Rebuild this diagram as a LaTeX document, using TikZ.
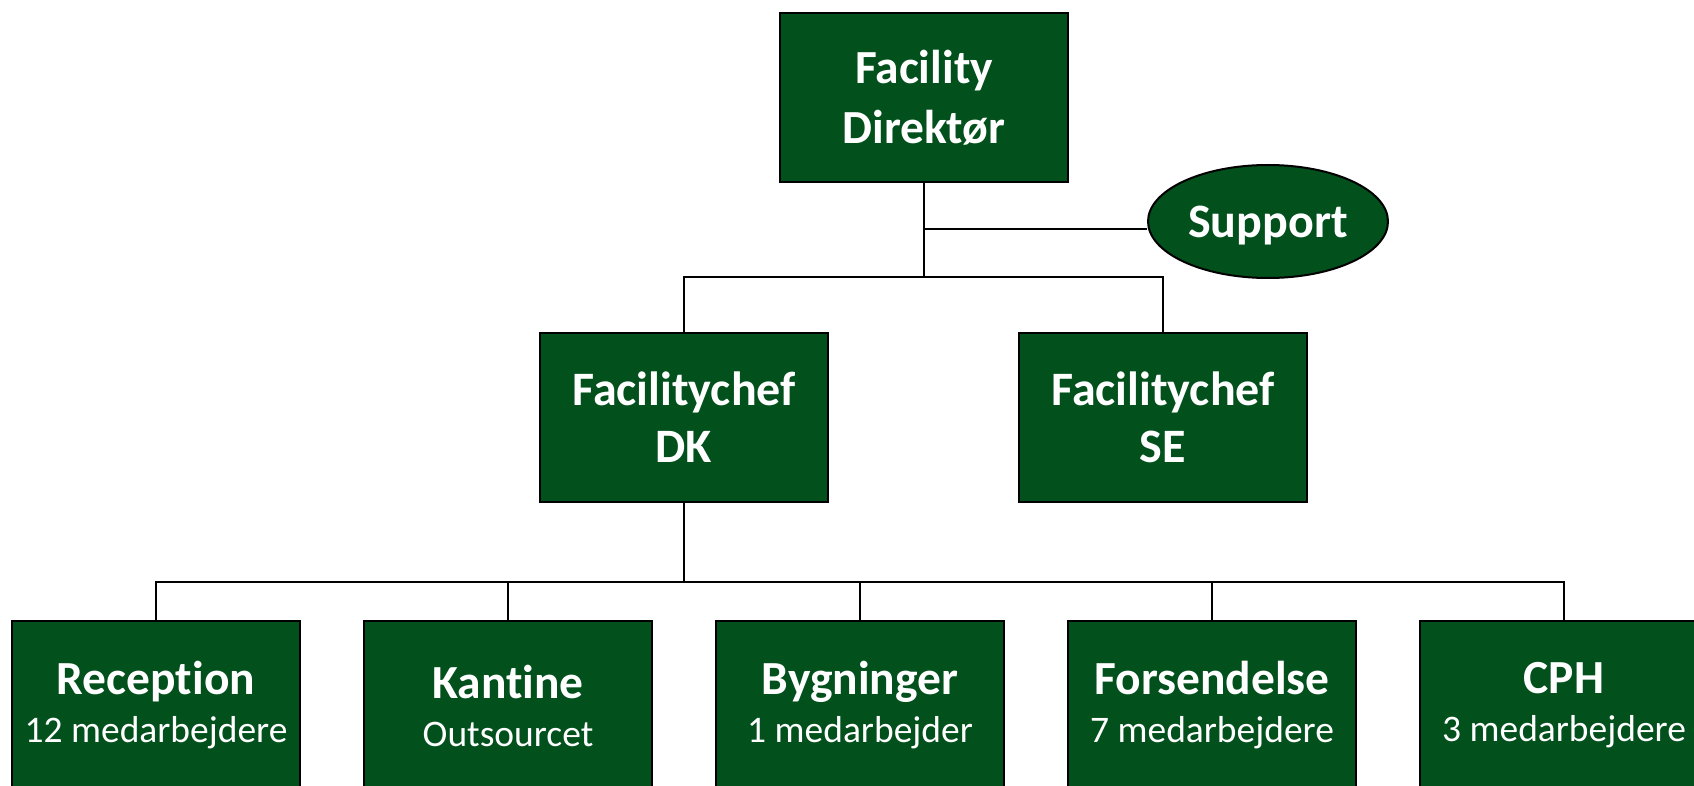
\documentclass[tikz,border=0pt]{standalone}
\usepackage{fontspec}
\setmainfont{Carlito}[Ligatures=NoCommon]
\usetikzlibrary{shapes.geometric}
\definecolor{boxgreen}{RGB}{2,80,28}
\begin{document}
\begin{tikzpicture}[x=1pt,y=-1pt,
  box/.style={draw=black, line width=2pt, fill=boxgreen, text=white,
    minimum width=288pt, minimum height=169pt, align=center, inner sep=0pt},
  topfont/.style={font=\fontsize{47.5}{60}\selectfont\bfseries},
  midfont/.style={font=\fontsize{48}{57}\selectfont\bfseries},
  conn/.style={line width=2pt, draw=black}]
\useasboundingbox (0,0) rectangle (1694,786);
% nodes
\node[box, topfont] (dir) at (924,97.5) {Facility\\Direktør};
\node[ellipse, draw=black, line width=2pt, fill=boxgreen, text=white,
  minimum width=240pt, minimum height=113pt, inner sep=0pt, text depth=0pt,
  font=\fontsize{48}{50}\selectfont\bfseries] (sup) at (1268,221.5) {Support};
\node[box, midfont] (dk) at (684,417.5) {Facilitychef\\DK};
\node[box, midfont] (se) at (1163,417.5) {Facilitychef\\SE};
\newcommand{\botnode}[4]{%
  \node[box, font=\fontsize{47.5}{49}\selectfont] (#1) at (#2,705.5)
    {{\bfseries #3}\\[-1pt]{\fontsize{37.5}{49}\selectfont #4}};}
\botnode{b1}{156}{Reception}{12 medarbejdere}
\botnode{b2}{508}{Kantine}{Outsourcet}
\botnode{b3}{860}{Bygninger}{1 medarbejder}
\botnode{b4}{1212}{Forsendelse}{7 medarbejdere}
\botnode{b5}{1564}{CPH}{3 medarbejdere}
% connectors
\coordinate (j1) at (924,277);
\coordinate (s1) at (924,229);
\coordinate (j2) at (684,582);
\draw[conn] (dir.south) -- (j1);
\draw[conn] (s1) -- (sup.west |- s1);
\draw[conn] (dk.north) |- (j1) -| (se.north);
\draw[conn] (dk.south) -- (j2);
\draw[conn] (b1.north) |- (j2) -| (b5.north);
\draw[conn] (b2.north) -- (b2.north |- j2);
\draw[conn] (b3.north) -- (b3.north |- j2);
\draw[conn] (b4.north) -- (b4.north |- j2);
\end{tikzpicture}
\end{document}
